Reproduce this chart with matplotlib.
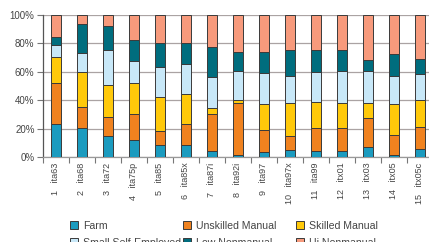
import matplotlib
matplotlib.use("Agg")
import matplotlib.pyplot as plt
import numpy as np

plt.rcParams['font.family'] = ['Liberation Sans', 'DejaVu Sans']

labels = ["ita63", "ita68", "ita72", "ita75p", "ita85", "ita85x", "ita87i", "ita92i",
          "ita97", "ita97x", "ita99", "itx01", "itx03", "itx05", "itx05c"]
series_names = ["Farm", "Unskilled Manual", "Skilled Manual",
                "Small Self-Employed", "Low Nonmanual", "Hi Nonmanual"]
farm = [23.5, 20.7, 14.6, 12.2, 8.2, 8.2, 4.2, 1.2, 3.8, 4.7, 4.5, 4.5, 6.8, 1.2, 5.4]
unskilled = [28.3, 14.6, 13.4, 17.9, 9.9, 15.1, 26.4, 37.2, 15.5, 9.9, 16.2, 16.0, 21.0, 14.1, 15.8]
skilled = [18.8, 24.7, 22.4, 21.7, 24.3, 21.2, 4.2, 1.8, 18.3, 23.8, 18.4, 17.9, 10.6, 22.3, 18.8]
small_self = [8.2, 13.6, 24.9, 16.0, 20.7, 20.7, 21.7, 20.5, 21.9, 19.0, 20.9, 22.1, 22.1, 19.3, 18.8]
low_nonmanual = [5.9, 19.8, 16.9, 14.6, 17.4, 14.8, 21.1, 13.2, 14.6, 17.7, 15.1, 15.0, 7.5, 15.6, 9.9]
hi_nonmanual = [15.3, 6.6, 7.8, 17.6, 19.5, 20.0, 22.4, 26.1, 25.9, 24.9, 24.9, 24.5, 32.0, 27.5, 31.3]

colors = ["#1b9bbf", "#f0821f", "#ffc90a", "#c8e8f8", "#006d7e", "#f79a7c"]
data = [farm, unskilled, skilled, small_self, low_nonmanual, hi_nonmanual]

W, H = 429, 242
fig = plt.figure(figsize=(W / 100, H / 100), dpi=100)
ax = fig.add_axes([0.1, 0.351, 0.909, 0.587])

x = np.arange(1, len(labels) + 1)
tot = np.array(data).sum(axis=0)
bottom = np.zeros(len(labels))
handles = []
for name, vals, c in zip(series_names, data, colors):
    pct = np.array(vals) / tot * 100
    h = ax.bar(x, pct, 0.39, bottom=bottom, color=c, edgecolor="#3a3a3a",
               linewidth=0.7, label=name, zorder=3)
    bottom += pct
    handles.append(h)

ax.set_xlim(0.5, len(labels) + 0.5)
ax.set_ylim(0, 100)
ax.set_yticks([0, 20, 40, 60, 80, 100])
ax.set_yticklabels([f"{v}%" for v in [0, 20, 40, 60, 80, 100]], fontsize=7, color="#444444")
ax.yaxis.grid(True, color="#aaa3a3", linewidth=0.9, zorder=0)
ax.set_axisbelow(True)

ax.set_xticks(x)
ax.set_xticklabels([f"{i}   {l}" for i, l in zip(x, labels)], rotation=90,
                   fontsize=6.5, color="#444444", va="top")
ax.tick_params(axis="x", length=0, pad=4)
ax.set_xticks(np.arange(0.5, len(labels) + 1, 1), minor=True)
ax.tick_params(axis="x", which="minor", length=4, color="#777777", width=0.8)
ax.tick_params(axis="y", length=4, color="#777777", width=0.8, pad=2)

for s in ["top", "right"]:
    ax.spines[s].set_visible(False)
ax.spines["left"].set_color("#555555")
ax.spines["left"].set_linewidth(0.9)
ax.spines["bottom"].set_color("#999999")
ax.spines["bottom"].set_linewidth(0.9)

# legend: three equal-width columns, filled row-wise
col_x = [70, 183, 296]
for col in range(3):
    idx = [col, col + 3]
    leg = fig.legend(handles=[handles[i] for i in idx],
                     labels=[series_names[i] for i in idx], ncol=1, loc="upper left",
                     bbox_to_anchor=(col_x[col] / W, 0.088), frameon=False, fontsize=7.6,
                     handlelength=0.75, handleheight=0.75, handletextpad=0.45,
                     labelspacing=0.65, borderpad=0, borderaxespad=0,
                     labelcolor="#444444")

fig.savefig("out.png", dpi=100)
